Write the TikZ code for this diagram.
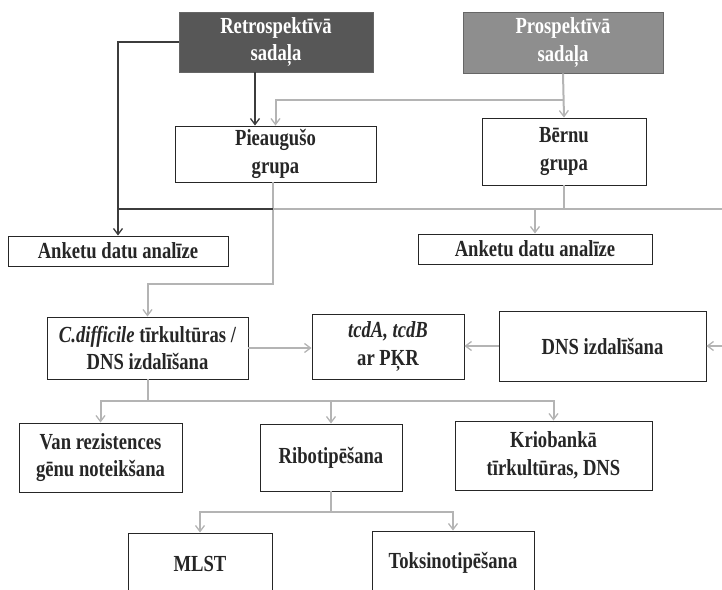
\documentclass[tikz,border=0pt]{standalone}
\usepackage{fontspec}
\setmainfont{Liberation Serif}[FakeStretch=0.81]
\usetikzlibrary{arrows.meta}
\definecolor{dkline}{HTML}{3C3C3C}
\definecolor{grline}{HTML}{B4B4B4}
\definecolor{retrofill}{HTML}{575757}
\definecolor{prospfill}{HTML}{8E8E8E}
\begin{document}
\begin{tikzpicture}[x=1pt,y=-1pt,
  box/.style={draw=black!85,line width=0.9pt,fill=white,inner sep=0pt,align=center,
    font=\fontsize{23}{27.5}\selectfont\bfseries,text=black!85},
  headbox/.style={box,draw=black!60,text=white},
  dk/.style={draw=dkline,line width=2.4pt},
  gr/.style={draw=grline,line width=2pt},
  tipdk/.style={-{Straight Barb[length=6pt,width=9pt,line width=1.3pt]}},
  tipgr/.style={-{Straight Barb[length=6pt,width=9pt,line width=1.3pt]}}
]
\useasboundingbox (0,0) rectangle (722,589);
% nodes
\node[headbox,fill=retrofill,minimum width=194pt,minimum height=60pt] (retro) at (276,42) {Retrospektīvā\\sadaļa};
\node[headbox,fill=prospfill,minimum width=200pt,minimum height=61pt] (prosp) at (563,42.5) {Prospektīvā\\sadaļa};
\node[box,minimum width=201pt,minimum height=56pt] (pie) at (275.5,154) {Pieaugušo\\grupa};
\node[box,minimum width=164pt,minimum height=67pt] (bern) at (564,151.5) {Bērnu\\grupa};
\node[box,minimum width=220pt,minimum height=30pt] (ank1) at (118,251) {Anketu datu analīze};
\node[box,minimum width=234pt,minimum height=30pt] (ank2) at (535,249) {Anketu datu analīze};
\node[box,minimum width=201pt,minimum height=62pt] (cdiff) at (147.5,348) {\textit{C.difficile} tīrkultūras /\\DNS izdalīšana};
\node[box,minimum width=152pt,minimum height=65pt] (tcd) at (388,346.5) {\textit{tcdA, tcdB}\\ar PĶR};
\node[box,minimum width=207pt,minimum height=70pt] (dns) at (602.5,346) {DNS izdalīšana};
\node[box,minimum width=163pt,minimum height=69pt] (van) at (100.5,457.5) {Van rezistences\\gēnu noteikšana};
\node[box,minimum width=142pt,minimum height=67pt] (ribo) at (331,457.5) {Ribotipēšana};
\node[box,minimum width=197pt,minimum height=69pt] (krio) at (553.5,455.5) {Kriobankā\\tīrkultūras, DNS};
\node[box,minimum width=144pt,minimum height=62pt] (mlst) at (200,564) {MLST};
\node[box,minimum width=162pt,minimum height=64pt] (toks) at (453,563) {Toksinotipēšana};
% coordinates
\coordinate (p1) at (563,100);
\coordinate (j0) at (118,209);
\coordinate (j1) at (273,209);
\coordinate (eR1) at (722,209);
\coordinate (eR2) at (722,346);
\coordinate (b1) at (147.5,401);
\coordinate (b2) at (331,512);
% gray connectors
\draw[gr,tipgr] (prosp.south) -- (bern.north);
\draw[gr,tipgr] (p1) -| (pie.north);
\draw[gr] (j1) -- (eR1);
\draw[gr] (bern.south) -- (bern.south |- j1);
\draw[gr,tipgr] (ank2.north |- j1) -- (ank2.north);
\draw[gr,tipgr] ([xshift=-2.5pt]pie.south) -- ++(0,102) -| (cdiff.north);
\draw[gr,tipgr] (eR2) -- (dns.east);
\draw[gr,tipgr] (dns.west) -- (dns.west -| tcd.east);
\draw[gr,tipgr] (cdiff.east) -- (cdiff.east -| tcd.west);
\draw[gr] (cdiff.south) -- (b1);
\draw[gr,tipgr] (b1) -| (van.north);
\draw[gr,tipgr] (b1) -| (ribo.north);
\draw[gr,tipgr] (b1) -| (krio.north);
\draw[gr] (ribo.south) -- (b2);
\draw[gr,tipgr] (b2) -| (mlst.north);
\draw[gr,tipgr] (b2) -| (toks.north);
% dark connectors
\draw[dk,tipdk] ([xshift=-21pt]retro.south) -- ([xshift=-20.5pt]pie.north);
\draw[dk,tipdk] (retro.west) -| (ank1.north);
\draw[dk] (j1) -- (j0);
\end{tikzpicture}
\end{document}
